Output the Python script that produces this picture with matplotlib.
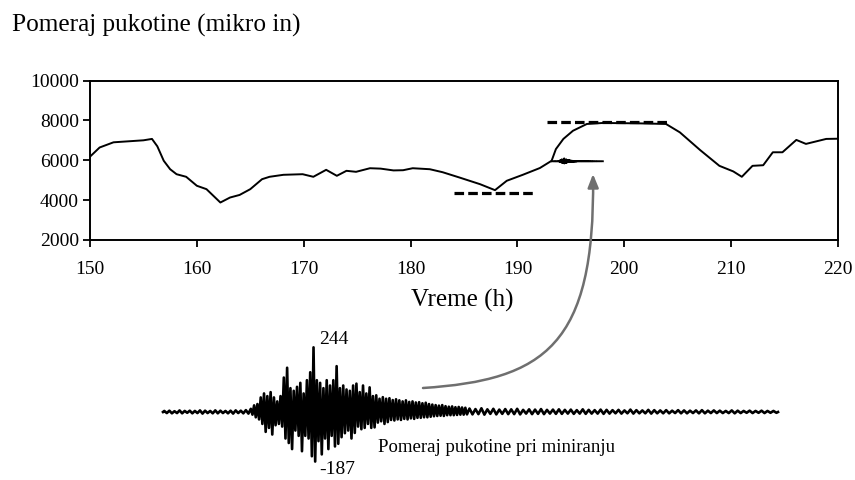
import numpy as np
import matplotlib
matplotlib.use("Agg")
import matplotlib.pyplot as plt
from matplotlib.patches import FancyArrowPatch
from matplotlib.path import Path

plt.rcParams["font.family"] = ["Liberation Serif", "DejaVu Serif"]

# --------------------------------------------
# Data: crack displacement vs time (micro in)
# --------------------------------------------
hours = [150, 150.9, 152.2, 155.0, 155.8, 156.3, 156.9, 157.5, 158.1, 159.0,
         160.0, 160.9, 162.2, 163.1, 164.0, 165.0, 166.1, 166.8, 168.1, 169.9,
         170.9, 172.1, 173.1, 174.0, 174.9, 176.2, 177.2, 178.4, 179.3, 180.2,
         181.8, 183.0, 184.6, 186.5, 187.9, 189.0, 190.5, 192.1, 193.2, 193.6,
         194.3, 195.2, 196.5, 198.0, 201.4, 203.9, 205.2, 207.1, 208.9, 210.2,
         211.0, 212.0, 213.0, 213.9, 214.8, 216.1, 217.0, 218.9, 220.0]
displacement = [6180, 6640, 6900, 7000, 7070, 6700, 5975, 5550, 5300, 5170,
                4720, 4550, 3880, 4130, 4260, 4550, 5050, 5170, 5270, 5300,
                5170, 5520, 5220, 5470, 5420, 5600, 5580, 5490, 5500, 5600,
                5550, 5400, 5130, 4800, 4500, 4970, 5270, 5610, 5975, 6560,
                7070, 7480, 7820, 7870, 7850, 7820, 7400, 6510, 5720, 5440,
                5170, 5720, 5750, 6400, 6400, 7020, 6820, 7070, 7080]

# dashed reference levels (start h, end h, level)
low_level = [184.1, 191.7, 4350]
high_level = [192.8, 204.3, 7900]

# blast event drawn inside the main plot
event_start, event_end, event_level = 193.2, 198.0, 5950

# --------------------------------------------
# Data: blast waveform (peak values per cycle)
# --------------------------------------------
pre_up = [4, 5, 3, 6, 4, 5, 4, 6, 5, 4, 6, 5, 4, 5, 6, 5, 7]
pre_down = [-4, -5, -4, -5, -3, -5, -4, -6, -4, -5, -5, -4, -5, -6, -4, -5, -6]

burst_up = [12, 25, 30, 55, 70, 60, 75, 55, 40, 60,
            130, 167, 90, 80, 95, 110, 70, 120, 150, 244,
            120, 110, 90, 120, 100, 120, 173, 90, 100, 85,
            80, 100, 107, 75, 100, 70, 93, 60, 63, 50,
            56, 50, 52, 45, 48, 44, 40, 44, 38, 40,
            36, 37, 33, 35, 30, 28, 26, 24, 26, 22,
            20, 21, 18, 19, 17, 16]
burst_down = [-10, -20, -28, -45, -75, -60, -85, -50, -45, -55,
              -100, -117, -140, -70, -90, -148, -90, -100, -167, -187,
              -110, -160, -100, -140, -90, -130, -120, -95, -80, -70,
              -100, -79, -55, -65, -60, -45, -60, -58, -40, -35,
              -45, -38, -30, -32, -28, -30, -26, -28, -24, -26,
              -22, -22, -20, -20, -18, -16, -15, -14, -15, -12,
              -12, -12, -11, -10, -10, -9]

tail_up = [13, 11, 14, 10, 12, 9, 11, 10, 12, 8,
           10, 9, 11, 8, 9, 10, 8, 9, 7, 10,
           8, 7, 9, 8, 7, 8, 6, 9, 7, 6,
           8, 7, 6, 7, 5, 7, 6, 5, 6, 7,
           5, 6, 5, 4, 6, 5, 4, 5, 4, 5,
           4, 4]
tail_down = [-9, -8, -10, -7, -9, -7, -8, -8, -9, -6,
             -8, -7, -8, -6, -7, -7, -6, -7, -6, -7,
             -6, -6, -7, -6, -5, -6, -5, -6, -5, -5,
             -6, -5, -5, -5, -4, -5, -5, -4, -5, -5,
             -4, -4, -4, -4, -5, -4, -3, -4, -3, -4,
             -3, -3]

# segment start and cycle length (waveform time units)
segments = [(0, 5.1, pre_up, pre_down),
            (87, 3.3, burst_up, burst_down),
            (305, 5.96, tail_up, tail_down)]
wave_end = 615

wave_t = [0]
wave_v = [0]
for t0, period, ups, downs in segments:
    for i, (u, d) in enumerate(zip(ups, downs)):
        wave_t += [t0 + period * (i + 0.25), t0 + period * (i + 0.75)]
        wave_v += [u, d]
wave_t.append(wave_end)
wave_v.append(0)
wave_t = np.array(wave_t)
wave_v = np.array(wave_v)

# --------------------------------------------
# Figure
# --------------------------------------------
W, H = 855, 480
fig = plt.figure(figsize=(W / 100, H / 100), dpi=100)


def fx(px):
    return px / W


def fy(py):
    return 1 - py / H


ax = fig.add_axes([fx(90), fy(240), fx(838) - fx(90), fy(80.5) - fy(240)])
ax.plot(hours, displacement, color="black", linewidth=1.4)
ax.plot(low_level[:2], [low_level[2]] * 2, color="black", linewidth=2.3,
        linestyle=(0, (3, 1.3)))
ax.plot(high_level[:2], [high_level[2]] * 2, color="black", linewidth=2.3,
        linestyle=(0, (3, 1.3)))

# small copy of the blast record on the main plot
ev_t = event_start + wave_t / wave_end * (event_end - event_start)
ax.plot(ev_t, event_level + 0.6 * wave_v, color="black", linewidth=1.3)

ax.set_xlim(150, 220)
ax.set_ylim(2000, 10000)
ax.set_xticks(range(150, 221, 10))
ax.set_yticks(range(2000, 10001, 2000))
for s in ax.spines.values():
    s.set_linewidth(1.4)
ax.tick_params(direction="out", length=5, width=1.3, labelsize=14)
ax.tick_params(axis="x", pad=10)
ax.tick_params(axis="y", pad=3)

fig.text(fx(12), fy(25), "Pomeraj pukotine (mikro in)", fontsize=18.2,
         va="center", ha="left")
fig.text(fx(462), fy(300), "Vreme (h)", fontsize=18, va="center", ha="center")

# --------------------------------------------
# Blast waveform below
# --------------------------------------------
amp_scale = 0.265  # px per unit
half = 250
wax = fig.add_axes([fx(163), fy(412 + half * amp_scale), fx(778) - fx(163),
                    2 * half * amp_scale / H])
wax.plot(wave_t, wave_v, color="black", linewidth=1.9, clip_on=False)
wax.set_xlim(0, wave_end)
wax.set_ylim(-half, half)
wax.axis("off")

fig.text(fx(319), fy(339), "244", fontsize=14, va="center", ha="left")
fig.text(fx(319), fy(470), "-187", fontsize=14, va="center", ha="left")
fig.text(fx(378), fy(448), "Pomeraj pukotine pri miniranju", fontsize=13.5,
         va="center", ha="left")

# curved arrow from the waveform to the event on the main plot
pts = [(423, 388), (545, 380), (595, 345), (593, 174)]
arrow_path = Path([(fx(x), fy(y)) for x, y in pts],
                  [Path.MOVETO, Path.CURVE4, Path.CURVE4, Path.CURVE4])
arrow = FancyArrowPatch(path=arrow_path,
                        arrowstyle="-|>,head_length=8,head_width=3.2",
                        color="#6f6f6f", linewidth=1.8,
                        transform=fig.transFigure)
fig.patches.append(arrow)

fig.savefig("out.png", dpi=100)
